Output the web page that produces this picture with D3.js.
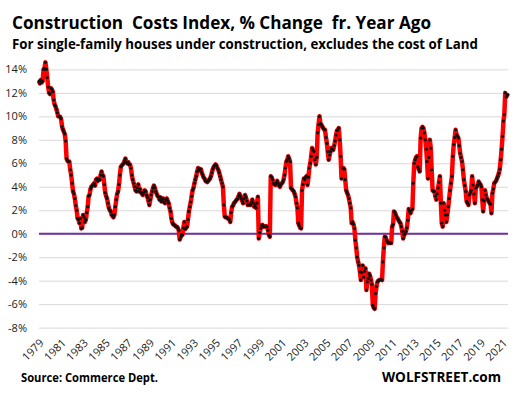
<!doctype html>
<html>
<head>
<meta charset="utf-8">
<title>Construction Costs Index</title>
<script src="https://d3js.org/d3.v7.min.js"></script>
<style>
  html, body { margin: 0; padding: 0; background: #fff; }
  svg { display: block; }
  .title { font-family: "Open Sans", sans-serif; font-weight: bold; white-space: pre; }
  .tick text { font-family: "Open Sans", sans-serif; font-size: 11px; fill: #222; }
</style>
</head>
<body>
<svg id="chart" width="516" height="396"></svg>
<script>
// monthly data, Jan 1979 .. Jul 2021, % change from a year ago
var firstMonth = new Date(1979, 0, 1);
var yoyPct = [
  13.0, 12.8, 13.1, 12.9, 13.0, 14.0, 14.1, 14.6, 14.0, 13.3, 12.5, 12.0,   // 1979
  11.9, 12.4, 12.3, 12.1, 11.4, 11.0, 10.85, 10.6, 10.3, 10.0, 10.0, 9.95, // 1980
  9.8, 9.15, 8.9, 8.7, 8.5, 7.9, 6.4, 6.2, 6.15, 6.15, 5.45, 5.0,           // 1981
  4.3, 3.6, 3.4, 3.0, 2.4, 2.0, 1.3, 1.2, 0.9, 1.3, 0.45, 0.5,              // 1982
  1.6, 1.4, 1.0, 1.2, 1.8, 2.3, 3.2, 3.3, 3.8, 4.0, 4.1, 4.2,               // 1983
  4.3, 4.1, 4.6, 4.7, 4.5, 4.7, 4.6, 5.0, 5.3, 5.0, 4.9, 4.2,               // 1984
  3.5, 3.2, 3.0, 2.6, 2.2, 2.0, 1.9, 1.6, 1.5, 1.4, 1.6, 2.3,               // 1985
  2.9, 3.4, 3.6, 4.2, 5.0, 5.7, 5.8, 5.9, 6.0, 6.2, 6.4, 6.1,               // 1986
  6.0, 6.1, 5.9, 5.9, 5.6, 5.0, 4.6, 4.3, 4.0, 3.7, 3.6, 3.9,               // 1987
  4.2, 3.6, 3.8, 3.5, 3.4, 3.3, 3.5, 3.7, 3.6, 3.3, 3.1, 2.8,               // 1988
  2.45, 2.9, 3.3, 3.6, 3.9, 4.1, 3.9, 3.6, 3.4, 3.2, 3.15, 2.9,             // 1989
  3.1, 2.75, 2.9, 3.0, 2.7, 2.6, 2.9, 3.0, 2.8, 2.6, 2.2, 1.9,              // 1990
  1.3, 0.95, 0.8, 0.75, 0.7, 0.6, 0.6, 0.5, 0.3, -0.5, -0.3, -0.1,          // 1991
  -0.1, 0.5, 1.0, 0.4, 0.5, 0.6, 1.2, 1.9, 2.3, 2.7, 3.2, 3.7,              // 1992
  3.9, 4.3, 4.6, 4.9, 5.3, 5.6, 5.5, 5.4, 5.5, 5.2, 5.0, 4.8,               // 1993
  4.7, 4.5, 4.45, 4.4, 4.5, 4.6, 4.7, 4.9, 5.2, 5.5, 5.7, 5.8,              // 1994
  5.9, 5.8, 5.6, 5.45, 5.2, 4.9, 4.6, 4.3, 4.0, 2.45, 1.45, 1.4,            // 1995
  1.4, 1.3, 1.3, 1.2, 1.0, 1.8, 2.3, 2.4, 2.6, 2.7, 2.8, 2.9,               // 1996
  3.0, 3.2, 3.4, 3.2, 3.0, 2.8, 2.6, 3.0, 3.3, 3.1, 2.8, 2.45,              // 1997
  2.5, 2.45, 2.45, 2.7, 2.9, 2.6, 2.3, 2.4, 2.2, 2.6, 3.15, -0.4,           // 1998
  0.1, 0.45, 0.7, 0.75, 0.6, 0.65, 0.6, 0.65, 0.6, 0.3, -0.1, -0.25,        // 1999
  4.9, 4.8, 4.6, 4.3, 4.2, 4.15, 4.3, 4.5, 4.3, 4.1, 4.0, 4.2,              // 2000
  4.3, 4.4, 4.6, 5.0, 5.6, 6.15, 6.3, 6.6, 6.4, 6.15, 3.9, 3.8,             // 2001
  3.7, 3.6, 3.4, 3.15, 2.6, 2.2, 0.9, 0.7, 0.5, 0.45, 3.7, 4.2,             // 2002
  4.7, 4.6, 4.8, 4.9, 4.15, 4.8, 5.6, 6.0, 6.6, 7.3, 7.1, 7.0,              // 2003
  6.3, 5.9, 6.5, 8.6, 9.3, 10.0, 9.4, 9.3, 9.15, 9.0, 8.9, 8.85,            // 2004
  8.2, 7.7, 7.0, 6.3, 6.7, 7.0, 7.3, 7.2, 7.15, 7.5, 7.9, 8.4,              // 2005
  8.8, 8.85, 9.0, 8.0, 6.6, 4.7, 5.6, 5.6, 5.5, 4.6, 3.7, 3.5,              // 2006
  3.3, 3.0, 2.6, 2.2, 0.9, 1.0, 0.8, 0.45, -0.55, -1.2, -2.0, -2.4,         // 2007
  -2.7, -3.25, -3.95, -3.3, -2.7, -3.7, -3.2, -2.95, -4.8, -4.1, -3.8, -3.4,// 2008
  -3.6, -3.95, -4.3, -6.1, -6.3, -6.4, -5.1, -4.5, -4.1, -4.0, -3.95, -3.9, // 2009
  -3.9, -3.95, -2.4, -1.2, -0.25, -0.3, -0.55, -0.7, -0.8, -0.75, -0.8, -0.8, // 2010
  0.6, 0.8, 1.9, 1.8, 1.6, 1.4, 1.3, 1.15, 1.0, 0.9, 0.6, 0.2,              // 2011
  -0.4, -0.1, 0.0, 0.2, 0.5, 1.15, 2.1, 1.9, 1.75, 2.0, 2.1, 4.3,           // 2012
  6.0, 6.3, 6.5, 6.6, 5.7, 5.5, 5.3, 8.15, 9.0, 9.1, 9.0, 8.6,              // 2013
  8.0, 7.2, 6.15, 4.7, 6.5, 8.0, 7.3, 5.45, 3.7, 3.6, 3.6, 3.2,             // 2014
  2.9, 3.4, 3.9, 4.4, 4.9, 2.6, 0.9, 0.6, 2.6, 2.0, 1.6, 1.0,               // 2015
  1.6, 2.3, 3.0, 3.7, 4.3, 4.9, 6.6, 7.6, 8.2, 8.85, 8.45, 8.3,             // 2016
  8.15, 7.5, 6.85, 6.5, 6.15, 5.45, 4.6, 4.1, 3.6, 2.75, 2.6, 2.45,         // 2017
  3.3, 3.5, 3.7, 4.9, 4.15, 3.4, 2.6, 3.9, 4.0, 4.15, 4.45, 4.3,            // 2018
  4.2, 4.0, 2.9, 1.9, 2.8, 3.7, 3.3, 3.0, 2.9, 2.75, 2.6, 2.5,              // 2019
  1.75, 3.45, 3.8, 4.3, 4.4, 4.5, 4.7, 4.9, 5.15, 5.5, 6.3, 7.2,            // 2020
  8.3, 9.6, 10.15, 12.0, 11.65, 11.8, 11.85                                  // 2021
];
var yTicks = [-8, -6, -4, -2, 0, 2, 4, 6, 8, 10, 12, 14];
var xTickYears = d3.range(1979, 2022, 2);

var titleText = "Construction  Costs Index, % Change  fr. Year Ago";
var subtitleText = "For single-family houses under construction, excludes the cost of Land";
var sourceText = "Source: Commerce Dept.";
var brandText = "WOLFSTREET.com";

(function() {
  var data = yoyPct.map(function(v, i) {
    return { date: d3.timeMonth.offset(firstMonth, i), value: v };
  });

  var svg = d3.select("#chart");
  var plotLeft = 39, plotRight = 508, plotTop = 69.4, plotBottom = 327.6;

  var x = d3.scaleTime()
    .domain([firstMonth, data[data.length - 1].date])
    .range([plotLeft, plotRight]);
  var y = d3.scaleLinear().domain([-8, 14]).range([plotBottom, plotTop]);

  // gridlines + y labels
  var yAxis = svg.append("g")
    .attr("transform", "translate(" + plotLeft + ",0)")
    .call(d3.axisLeft(y).tickValues(yTicks).tickSize(-(plotRight - plotLeft)).tickPadding(12)
      .tickFormat(function(d) { return d + "%"; }));
  yAxis.select(".domain").remove();
  yAxis.selectAll(".tick line").attr("stroke", "#d9d9d9").attr("stroke-width", 1);

  // x labels
  var xAxis = svg.append("g")
    .attr("transform", "translate(0," + plotBottom + ")")
    .call(d3.axisBottom(x).tickValues(xTickYears.map(function(yr) { return new Date(yr, 0, 1); }))
      .tickSize(0).tickFormat(d3.timeFormat("%Y")));
  xAxis.select(".domain").remove();
  xAxis.selectAll(".tick text")
    .attr("text-anchor", "end")
    .attr("dy", null)
    .attr("y", 0)
    .attr("transform", "translate(5,16) rotate(-45)");

  // zero line
  svg.append("line")
    .attr("x1", plotLeft).attr("x2", plotRight)
    .attr("y1", y(0)).attr("y2", y(0))
    .attr("stroke", "#7030a0").attr("stroke-width", 2);

  var line = d3.line()
    .x(function(d) { return x(d.date); })
    .y(function(d) { return y(d.value); });

  svg.append("path")
    .datum(data)
    .attr("d", line)
    .attr("fill", "none")
    .attr("stroke", "#ff0000")
    .attr("stroke-width", 4.5)
    .attr("stroke-linejoin", "round");

  svg.append("g").selectAll("circle")
    .data(data)
    .enter().append("circle")
    .attr("cx", function(d) { return x(d.date); })
    .attr("cy", function(d) { return y(d.value); })
    .attr("r", 1.6)
    .attr("fill", "#111");

  // texts
  svg.append("text").attr("class", "title")
    .attr("x", 12).attr("y", 29)
    .attr("font-size", 18)
    .attr("textLength", 419).attr("lengthAdjust", "spacingAndGlyphs")
    .text(titleText);
  svg.append("text").attr("class", "title")
    .attr("x", 12).attr("y", 49)
    .attr("font-size", 13.5)
    .attr("textLength", 466).attr("lengthAdjust", "spacingAndGlyphs")
    .text(subtitleText);
  svg.append("text").attr("class", "title")
    .attr("x", 21).attr("y", 382)
    .attr("font-size", 12)
    .attr("textLength", 137).attr("lengthAdjust", "spacingAndGlyphs")
    .text(sourceText);
  svg.append("text").attr("class", "title")
    .attr("x", 382).attr("y", 382)
    .attr("font-size", 14)
    .attr("textLength", 119).attr("lengthAdjust", "spacingAndGlyphs")
    .text(brandText);
})();
</script>
</body>
</html>
